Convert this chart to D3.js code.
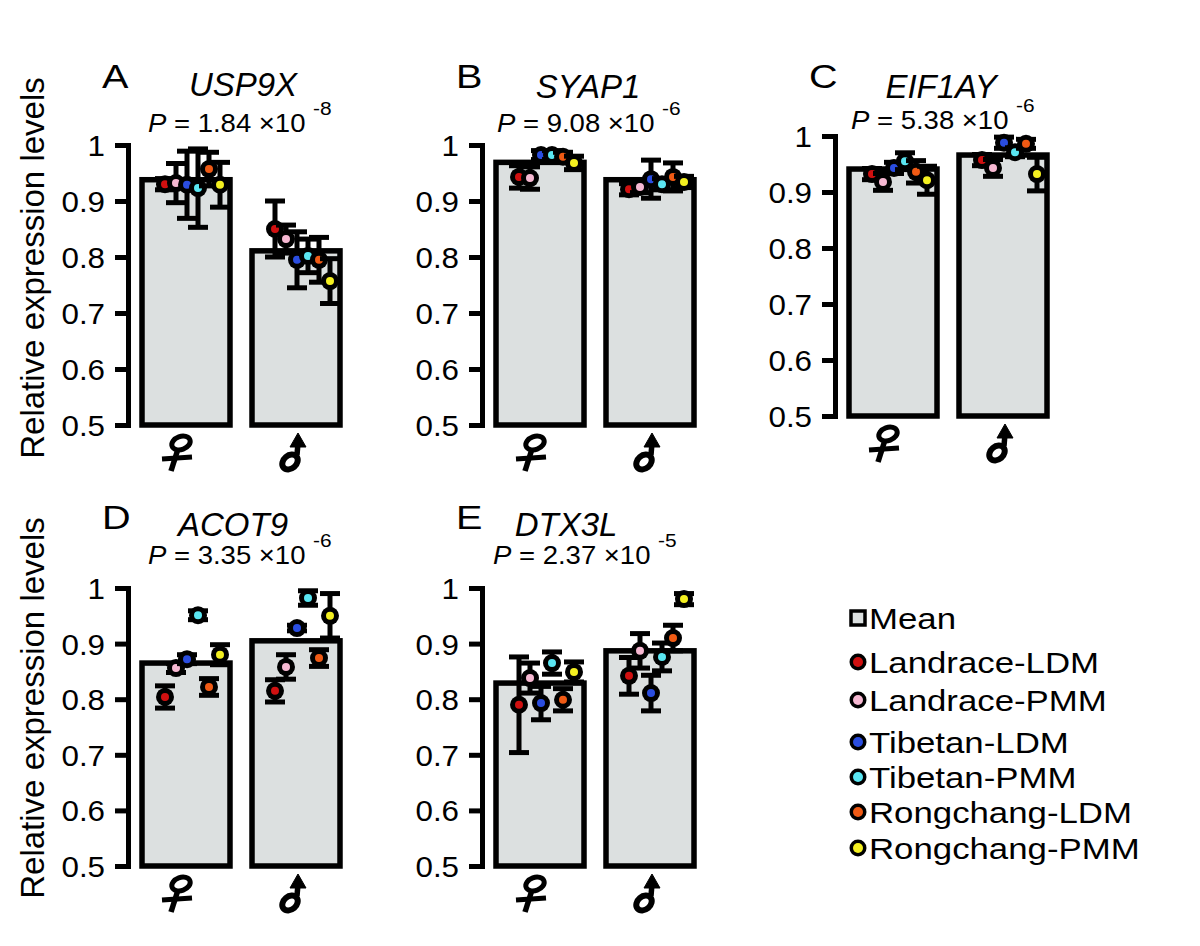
<!DOCTYPE html>
<html>
<head>
<meta charset="utf-8">
<script src="https://cdn.jsdelivr.net/npm/d3@7"></script>
<style>
  html, body { margin: 0; padding: 0; background: #fff; }
  svg { display: block; font-family: "Liberation Sans", Arial, sans-serif; }
</style>
</head>
<body>
<svg id="chart" width="1200" height="946"></svg>
<script>
// ---------------- data ----------------
const letters = ["A", "B", "C", "D", "E"];
const genes = ["USP9X", "SYAP1", "EIF1AY", "ACOT9", "DTX3L"];
const pMantissa = ["1.84", "9.08", "5.38", "3.35", "2.37"];
const pExponent = ["-8", "-6", "-6", "-6", "-5"];
const sexes = ["female", "male"];
const seriesNames = ["Landrace-LDM", "Landrace-PMM", "Tibetan-LDM", "Tibetan-PMM", "Rongchang-LDM", "Rongchang-PMM"];
const seriesColors = ["#d01010", "#f6b8d2", "#2a4de0", "#5ae6f2", "#f05a14", "#f4f020"];
const yTicks = [0.5, 0.6, 0.7, 0.8, 0.9, 1];
const yTickLabels = ["0.5", "0.6", "0.7", "0.8", "0.9", "1"];

const meanFemale = [0.938, 0.969, 0.941, 0.865, 0.829];
const meanMale   = [0.811, 0.938, 0.966, 0.905, 0.887];

const femaleValues = [
  [0.930, 0.932, 0.929, 0.923, 0.957, 0.929],
  [0.943, 0.941, 0.982, 0.982, 0.979, 0.968],
  [0.932, 0.918, 0.943, 0.955, 0.936, 0.921],
  [0.804, 0.856, 0.872, 0.951, 0.822, 0.880],
  [0.790, 0.838, 0.793, 0.865, 0.799, 0.849]
];
const femaleErrors = [
  [0.010, 0.035, 0.060, 0.070, 0.030, 0.040],
  [0.020, 0.020, 0.008, 0.008, 0.008, 0.012],
  [0.010, 0.015, 0.010, 0.015, 0.020, 0.025],
  [0.020, 0.008, 0.008, 0.008, 0.015, 0.018],
  [0.086, 0.027, 0.030, 0.020, 0.020, 0.018]
];
const maleValues = [
  [0.850, 0.832, 0.795, 0.802, 0.795, 0.757],
  [0.921, 0.925, 0.939, 0.930, 0.943, 0.934],
  [0.957, 0.943, 0.988, 0.971, 0.986, 0.932],
  [0.815, 0.858, 0.928, 0.982, 0.874, 0.950],
  [0.842, 0.887, 0.811, 0.876, 0.910, 0.980]
];
const maleErrors = [
  [0.050, 0.025, 0.050, 0.030, 0.040, 0.040],
  [0.010, 0.010, 0.034, 0.010, 0.025, 0.010],
  [0.010, 0.015, 0.010, 0.008, 0.008, 0.030],
  [0.020, 0.022, 0.005, 0.013, 0.015, 0.040],
  [0.033, 0.031, 0.032, 0.025, 0.023, 0.010]
];

// ---------------- layout ----------------
const panelLayout = [
  { x: 128, top: 145, bottom: 425, letterY: 88,  geneX: 243, geneY: 96,  pX: 148, pY: 132 },
  { x: 482, top: 145, bottom: 425, letterY: 88,  geneX: 588, geneY: 98,  pX: 497, pY: 132 },
  { x: 835, top: 136, bottom: 416, letterY: 88,  geneX: 941, geneY: 98,  pX: 851, pY: 129 },
  { x: 128, top: 588, bottom: 866, letterY: 529, geneX: 233, geneY: 536, pX: 148, pY: 564 },
  { x: 482, top: 588, bottom: 866, letterY: 529, geneX: 566, geneY: 536, pX: 493, pY: 564 }
];
const FONT = "'Liberation Sans', Arial, sans-serif";
const svg = d3.select("#chart");
const BAR_FILL = "#dce0e0";

function stretchedText(parent, x, y, size, sx, str, anchor) {
  return parent.append("text")
    .attr("transform", `translate(${x},${y}) scale(${sx},1)`)
    .attr("font-size", size).attr("font-family", FONT)
    .attr("text-anchor", anchor || "start").text(str);
}

function femaleSymbol(g, cx, base) {
  const s = g.append("g").attr("fill", "none").attr("stroke", "#000").attr("stroke-linecap", "butt");
  s.append("ellipse").attr("cx", cx - 5).attr("cy", base + 18).attr("rx", 9.5).attr("ry", 6.5)
    .attr("transform", `rotate(-20,${cx - 5},${base + 18})`).attr("stroke-width", 5);
  s.append("line").attr("x1", cx - 8).attr("y1", base + 24).attr("x2", cx - 15).attr("y2", base + 46)
    .attr("stroke-width", 5.5);
  s.append("line").attr("x1", cx - 24).attr("y1", base + 34).attr("x2", cx + 6).attr("y2", base + 32)
    .attr("stroke-width", 5);
}
function maleSymbol(g, cx, base) {
  const s = g.append("g").attr("stroke", "#000");
  s.append("ellipse").attr("cx", cx - 6).attr("cy", base + 37).attr("rx", 8.5).attr("ry", 6.5)
    .attr("transform", `rotate(-40,${cx - 6},${base + 37})`)
    .attr("fill", "none").attr("stroke-width", 6);
  s.append("line").attr("x1", cx + 1).attr("y1", base + 30).attr("x2", cx + 2).attr("y2", base + 18)
    .attr("stroke-width", 5.5);
  s.append("path").attr("d", `M${cx + 2},${base + 8} L${cx + 10},${base + 22} L${cx - 6},${base + 22} Z`)
    .attr("fill", "#000").attr("stroke-width", 1);
}

genes.forEach((gene, gi) => {
  const L = panelLayout[gi];
  const g = svg.append("g");

  const y = d3.scaleLinear().domain([0.5, 1]).range([L.bottom, L.top]);
  const x = d3.scaleBand().domain(sexes).range([L.x + 14, L.x + 212]).paddingInner(0.2).paddingOuter(0);

  // axis
  const axis = d3.axisLeft(y).tickValues(yTicks)
    .tickFormat((d, i) => yTickLabels[i])
    .tickSizeInner(13).tickSizeOuter(13).tickPadding(10);
  const ag = g.append("g").attr("transform", `translate(${L.x},0)`).call(axis);
  ag.select(".domain").attr("stroke", "#000").attr("stroke-width", 5).attr("fill", "none");
  ag.selectAll(".tick line").attr("stroke", "#000").attr("stroke-width", 5);
  ag.selectAll(".tick text").attr("font-size", 29).attr("fill", "#000")
    .attr("font-family", FONT).attr("dy", "0.36em")
    .attr("x", -23 / 1.08).attr("transform", "scale(1.08,1)");

  // bars
  const means = [meanFemale[gi], meanMale[gi]];
  g.selectAll("rect.bar").data(sexes).enter().append("rect")
    .attr("class", "bar")
    .attr("x", d => x(d))
    .attr("width", x.bandwidth())
    .attr("y", (d, i) => y(means[i]))
    .attr("height", (d, i) => y(0.5) - y(means[i]))
    .attr("fill", BAR_FILL).attr("stroke", "#000").attr("stroke-width", 5.5);

  // points + errors
  sexes.forEach((sex, si) => {
    const vals = si === 0 ? femaleValues[gi] : maleValues[gi];
    const errs = si === 0 ? femaleErrors[gi] : maleErrors[gi];
    const px = d3.scalePoint().domain(seriesNames).range([x(sex) + 23, x(sex) + 78]);
    seriesNames.forEach((s, k) => {
      const cx = px(s);
      const eg = g.append("g");
      const yt = y(vals[k] + errs[k]), yb = y(vals[k] - errs[k]);
      eg.append("line").attr("x1", cx).attr("x2", cx).attr("y1", yt).attr("y2", yb)
        .attr("stroke", "#000").attr("stroke-width", 5);
      [yt, yb].forEach(yy => eg.append("line").attr("x1", cx - 10).attr("x2", cx + 10)
        .attr("y1", yy).attr("y2", yy).attr("stroke", "#000").attr("stroke-width", 5));
      eg.append("circle").attr("cx", cx).attr("cy", y(vals[k])).attr("r", 9).attr("fill", "#000");
      eg.append("circle").attr("cx", cx).attr("cy", y(vals[k])).attr("r", 4).attr("fill", seriesColors[k]);
    });
  });

  // sex symbols
  femaleSymbol(g, x("female") + x.bandwidth() / 2, L.bottom);
  maleSymbol(g, x("male") + x.bandwidth() / 2, L.bottom);

  // titles
  stretchedText(g, L.x - 26, L.letterY, 33, 1.2, letters[gi]);
  stretchedText(g, L.geneX, L.geneY, 33, 1.0, gene, "middle").attr("font-style", "italic");
  const pt = g.append("text")
    .attr("transform", `translate(${L.pX},${L.pY}) scale(1.1,1)`)
    .attr("font-size", 25).attr("font-family", FONT);
  pt.append("tspan").attr("font-style", "italic").text("P");
  pt.append("tspan").text(` = ${pMantissa[gi]} \u00d710`);
  pt.append("tspan").attr("font-size", 19).attr("dx", 7).attr("dy", -17).text(pExponent[gi]);
});

// y axis titles
[268, 708].forEach(cy => {
  svg.append("text").attr("transform", `translate(44,${cy}) rotate(-90)`)
    .attr("text-anchor", "middle").attr("font-size", 33).attr("font-family", FONT)
    .text("Relative expression levels");
});

// legend
const legendX = 858, legendY = [618, 662, 700, 742, 777, 812, 848];
const lg = svg.append("g");
lg.append("rect").attr("x", legendX - 7).attr("y", legendY[0] - 7).attr("width", 14).attr("height", 14)
  .attr("fill", BAR_FILL).attr("stroke", "#000").attr("stroke-width", 3.5);
stretchedText(lg, legendX + 11, legendY[0] + 11, 30, 1.16, "Mean");
seriesNames.forEach((s, k) => {
  const yy = legendY[k + 1];
  lg.append("circle").attr("cx", legendX).attr("cy", yy).attr("r", 8.5).attr("fill", "#000");
  lg.append("circle").attr("cx", legendX).attr("cy", yy).attr("r", 5).attr("fill", seriesColors[k]);
  stretchedText(lg, legendX + 11, yy + 11, 30, 1.16, s);
});
</script>
</body>
</html>
